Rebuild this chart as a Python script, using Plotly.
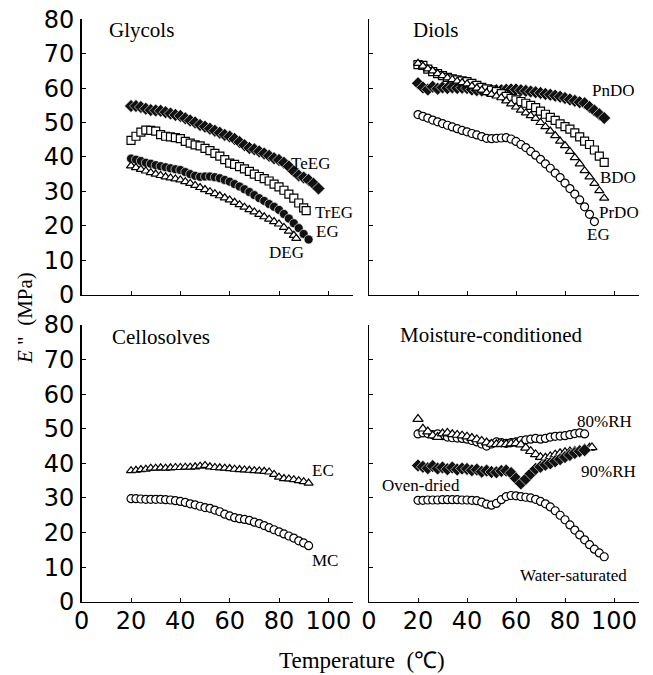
import plotly.graph_objects as go

# The page body margin is removed (see post_script) so figure pixels are window pixels.
OFF = 0
W, H = 653, 675

# ---------------- data ----------------
# Glycols
teeg_x = [20,22,24,26,28,30,32,34,36,38,40,42,44,46,48,50,52,54,56,58,60,62,64,66,68,70,72,74,76,78,80,82,84,86,88,90,92,94,96]
teeg_y = [54.8,54.8,54.5,54.0,53.6,53.5,53.4,53.0,52.6,52.2,51.9,51.2,50.6,50.0,49.3,48.8,48.2,47.6,47.0,46.4,45.9,45.2,44.3,43.4,42.6,42.2,41.6,41.0,40.3,39.6,39.1,38.3,37.2,35.8,34.6,34.0,33.3,32.2,30.8]
treg_x = [20,22,24,26,28,30,32,34,36,38,40,42,44,46,48,50,52,54,56,58,60,62,64,66,68,70,72,74,76,78,80,82,84,86,88,90,91]
treg_y = [44.8,46.0,47.2,47.8,47.7,47.5,46.5,46.0,45.8,45.6,45.3,44.5,44.0,43.5,43.2,42.5,41.8,41.0,40.2,39.2,38.2,37.8,37.2,36.5,35.8,35.0,34.3,33.7,33.0,32.1,31.3,30.3,29.2,28.0,26.6,25.2,24.4]
eg1_x = [20,22,24,26,28,30,32,34,36,38,40,42,44,46,48,50,52,54,56,58,60,62,64,66,68,70,72,74,76,78,80,82,84,86,88,90,92]
eg1_y = [39.5,39.2,38.8,38.3,38.0,37.6,37.3,37.0,36.7,36.4,36.2,35.6,35.0,34.5,34.2,34.3,34.3,34.1,33.8,33.3,32.8,32.1,31.4,30.6,29.8,28.9,28.0,27.2,26.3,25.5,24.6,23.4,22.1,20.7,19.3,17.6,16.0]
deg_x = [20,22,24,26,28,30,32,34,36,38,40,42,44,46,48,50,52,54,56,58,60,62,64,66,68,70,72,74,76,78,80,82,84,86,87]
deg_y = [37.4,36.9,36.4,35.9,35.4,35.0,34.6,34.2,33.9,33.6,33.3,32.8,32.3,31.7,31.1,30.5,29.9,29.3,28.7,28.1,27.5,26.8,26.1,25.4,24.7,24.0,23.3,22.6,21.9,21.2,20.5,19.5,18.4,17.2,16.3]

# Diols
pndo_x = [20,22,24,26,28,30,32,34,36,38,40,42,44,46,48,50,52,54,56,58,60,62,64,66,68,70,72,74,76,78,80,82,84,86,88,90,92,94,96]
pndo_y = [61.4,60.2,59.6,60.4,59.8,60.2,60.0,60.2,60.0,60.1,60.0,59.6,59.4,59.3,59.3,59.4,59.4,59.4,59.5,59.6,59.6,59.4,59.2,59.0,58.8,58.6,58.3,58.1,57.8,57.5,57.1,56.7,56.3,55.9,55.6,54.5,53.5,52.4,51.3]
bdo_x = [20,22,24,26,28,30,32,34,36,38,40,42,44,46,48,50,52,54,56,58,60,62,64,66,68,70,72,74,76,78,80,82,84,86,88,90,92,94,96]
bdo_y = [66.8,66.6,65.5,64.8,64.2,63.6,63.1,62.7,62.4,62.1,61.9,61.4,60.8,60.2,59.8,59.4,59.0,58.4,57.6,57.0,56.6,56.1,55.6,55.0,54.3,53.3,52.4,51.5,50.6,49.6,48.8,48.1,47.0,45.8,44.6,43.6,42.0,40.2,38.4]
prdo_x = [20,22,24,26,28,30,32,34,36,38,40,42,44,46,48,50,52,54,56,58,60,62,64,66,68,70,72,74,76,78,80,82,84,86,88,90,92,94,96]
prdo_y = [67.2,66.4,65.6,65.0,64.2,63.6,63.0,62.5,62.0,61.6,61.2,60.6,60.0,59.4,58.7,58.2,57.7,57.2,56.3,55.4,54.5,53.6,52.8,52.0,51.2,50.0,48.8,47.5,46.2,44.6,43.3,41.6,39.8,38.0,36.0,34.2,32.3,30.2,28.0]
eg2_x = [20,22,24,26,28,30,32,34,36,38,40,42,44,46,48,50,52,54,56,58,60,62,64,66,68,70,72,74,76,78,80,82,84,86,88,90,92]
eg2_y = [52.3,51.8,51.3,50.7,50.2,49.7,49.2,48.7,48.2,47.7,47.3,46.8,46.4,45.9,45.4,45.3,45.4,45.5,45.6,45.2,44.5,43.6,42.7,41.6,40.5,39.3,38.0,36.7,35.3,34.0,32.4,30.8,29.2,27.5,25.5,23.3,21.2]

# Cellosolves
ec_x = [20,22,24,26,28,30,32,34,36,38,40,42,44,46,48,50,52,54,56,58,60,62,64,66,68,70,72,74,76,78,80,82,84,86,88,90,92]
ec_y = [37.9,38.0,38.2,38.3,38.6,38.6,38.7,38.6,38.7,38.8,38.8,38.9,38.9,39.0,39.2,39.4,39.0,38.8,38.7,38.6,38.5,38.3,38.2,38.1,38.0,37.9,37.8,37.7,37.5,36.8,36.0,35.6,35.5,35.3,35.0,34.7,34.3]
mc_x = [20,22,24,26,28,30,32,34,36,38,40,42,44,46,48,50,52,54,56,58,60,62,64,66,68,70,72,74,76,78,80,82,84,86,88,90,92]
mc_y = [29.8,29.8,29.7,29.6,29.6,29.6,29.6,29.5,29.4,29.2,29.0,28.7,28.3,28.0,27.6,27.2,27.0,26.5,26.0,25.3,24.8,24.3,24.0,23.8,23.5,23.0,22.6,22.0,21.4,20.8,20.2,19.6,19.0,18.4,17.6,17.0,16.2]

# Moisture-conditioned
rh80_x = [20,22,24,26,28,30,32,34,36,38,40,42,44,46,48,50,52,54,56,58,60,62,64,66,68,70,72,74,76,78,80,82,84,86,88]
rh80_y = [48.5,48.8,48.6,48.3,48.5,48.0,47.6,47.4,47.3,47.2,47.0,46.6,46.2,45.6,45.0,45.6,46.2,46.0,45.8,46.0,46.2,46.6,46.8,47.0,47.2,47.0,47.2,47.6,47.8,47.9,48.0,48.3,48.6,48.8,48.5]
rh90_x = [20,22,24,26,28,30,32,34,36,38,40,42,44,46,48,50,52,54,56,58,60,62,64,66,68,70,72,74,76,78,80,82,84,86,88,90,91]
rh90_y = [52.8,50.0,49.2,48.0,47.6,48.6,48.8,48.4,48.2,48.0,47.7,47.3,46.9,46.5,46.0,45.6,45.5,45.6,45.5,45.7,45.8,45.4,44.5,43.5,42.6,41.8,41.6,42.0,42.5,42.9,43.2,43.4,43.6,43.9,44.2,44.5,44.6]
oven_x = [20,22,24,26,28,30,32,34,36,38,40,42,44,46,48,50,52,54,56,58,60,62,64,66,68,70,72,74,76,78,80,82,84,86,88]
oven_y = [39.4,39.0,38.6,39.2,38.5,38.8,38.3,38.8,38.2,38.5,38.4,38.0,38.2,37.6,37.9,37.5,37.4,37.8,37.9,37.2,35.6,34.2,35.5,37.0,38.4,39.0,39.6,40.0,40.6,41.2,41.8,42.4,43.0,43.5,43.8]
wet_x = [20,22,24,26,28,30,32,34,36,38,40,42,44,46,48,50,52,54,56,58,60,62,64,66,68,70,72,74,76,78,80,82,84,86,88,90,92,94,96]
wet_y = [29.3,29.3,29.4,29.4,29.4,29.5,29.5,29.5,29.5,29.4,29.4,29.3,29.2,28.8,28.2,27.9,28.4,29.5,30.4,30.7,30.6,30.4,30.2,30.0,29.6,29.0,28.3,27.4,26.3,25.0,23.7,22.2,20.7,19.3,17.9,16.5,15.2,14.1,13.0]

x_ticks = [0, 20, 40, 60, 80, 100]
y_ticks = [0, 10, 20, 30, 40, 50, 60, 70, 80]
panel_titles = ["Glycols", "Diols", "Cellosolves", "Moisture-conditioned"]

# ---------------- figure ----------------
def px(x):
    return (x - OFF) / W

def py(y):
    return 1 - (y - OFF) / H

fig = go.Figure()

DARK = dict(color="#111111", line=dict(color="white", width=0.6))
LIGHT = dict(color="white", line=dict(color="black", width=1.2))

def add(xs, ys, axis, symbol, style, size=9):
    m = dict(symbol=symbol, size=size)
    m.update(style)
    fig.add_trace(go.Scatter(x=xs, y=ys, mode="markers", marker=m,
                             xaxis="x" + axis, yaxis="y" + axis,
                             showlegend=False, hoverinfo="skip"))

add(teeg_x, teeg_y, "", "diamond", DARK, 10)
add(treg_x, treg_y, "", "square", LIGHT, 8)
add(eg1_x, eg1_y, "", "circle", DARK, 9)
add(deg_x, deg_y, "", "triangle-up", LIGHT, 8)

add(pndo_x, pndo_y, "2", "diamond", DARK, 10)
add(bdo_x, bdo_y, "2", "square", LIGHT, 8)
add(prdo_x, prdo_y, "2", "triangle-up", LIGHT, 8)
add(eg2_x, eg2_y, "2", "circle", LIGHT, 8)

add(ec_x, ec_y, "3", "triangle-up", LIGHT, 8)
add(mc_x, mc_y, "3", "circle", LIGHT, 8)

add(rh80_x, rh80_y, "4", "circle", LIGHT, 8)
add(rh90_x, rh90_y, "4", "triangle-up", LIGHT, 9)
add(oven_x, oven_y, "4", "diamond", DARK, 10)
add(wet_x, wet_y, "4", "circle", LIGHT, 8)

xdom_l = [px(81.7), px(353)]
xdom_r = [px(369), px(638.5)]
ydom_t = [py(294.5), py(19.3)]
ydom_b = [py(601.7), py(325)]

tick_font = dict(family="DejaVu Sans", size=24, color="black")

def xax(domain, anchor, labels):
    return dict(domain=domain, anchor=anchor, range=[0, 110], tickvals=x_ticks,
                showticklabels=labels, ticks="inside", ticklen=4, tickwidth=1,
                tickcolor="black", showline=True, linecolor="black", linewidth=1.5,
                showgrid=False, zeroline=False, tickfont=tick_font,
                ticklabelstandoff=-3, ticklabeloverflow="allow",
                automargin=False, fixedrange=True)

def yax(domain, anchor, labels):
    return dict(domain=domain, anchor=anchor, range=[0, 80], tickvals=y_ticks,
                showticklabels=labels, ticks="inside", ticklen=4, tickwidth=1,
                tickcolor="black", showline=True, linecolor="black", linewidth=1.5,
                showgrid=False, zeroline=False, tickfont=tick_font,
                ticklabelstandoff=1, ticklabeloverflow="allow",
                automargin=False, fixedrange=True)

fig.update_layout(
    width=W, height=H,
    margin=dict(l=0, r=0, t=0, b=0),
    paper_bgcolor="white", plot_bgcolor="white",
    hovermode=False,
    xaxis=xax(xdom_l, "y", False), yaxis=yax(ydom_t, "x", True),
    xaxis2=xax(xdom_r, "y2", False), yaxis2=yax(ydom_t, "x2", False),
    xaxis3=xax(xdom_l, "y3", True), yaxis3=yax(ydom_b, "x3", True),
    xaxis4=xax(xdom_r, "y4", True), yaxis4=yax(ydom_b, "x4", False),
)

SERIF = "Liberation Serif"

def label(text, x, y, size=17, angle=0):
    fig.add_annotation(text=text, x=px(x), y=py(y), xref="paper", yref="paper",
                       showarrow=False, xanchor="center", yanchor="middle",
                       textangle=angle,
                       font=dict(family=SERIF, size=size, color="black"))

# panel titles
label(panel_titles[0], 141.5, 30, 21)
label(panel_titles[1], 436.5, 30, 21)
label(panel_titles[2], 160.5, 337, 21)
label(panel_titles[3], 490.5, 335, 21)

# series labels
label("TeEG", 310, 163)
label("TrEG", 334, 212.5)
label("EG", 327.5, 232)
label("DEG", 286, 252.5)
label("PnDO", 613, 90.5)
label("BDO", 617.5, 177.5)
label("PrDO", 619, 212.5)
label("EG", 598.5, 234.5)
label("EC", 322.5, 470.5)
label("MC", 324.5, 560.5)
label("80%RH", 604, 421.5)
label("90%RH", 608, 471.5)
label("Oven-dried", 421, 485.5)
label("Water-saturated", 573.5, 575)

# axis titles
label("<i>E</i> \"  (MPa)", 25, 318, 21, -90)
label("Temperature  (℃)", 362, 660, 23)

fig.write_html(
    "out.html",
    config={"displayModeBar": False, "staticPlot": True},
    post_script="document.body.style.margin='0px';document.body.style.overflow='hidden';",
)
